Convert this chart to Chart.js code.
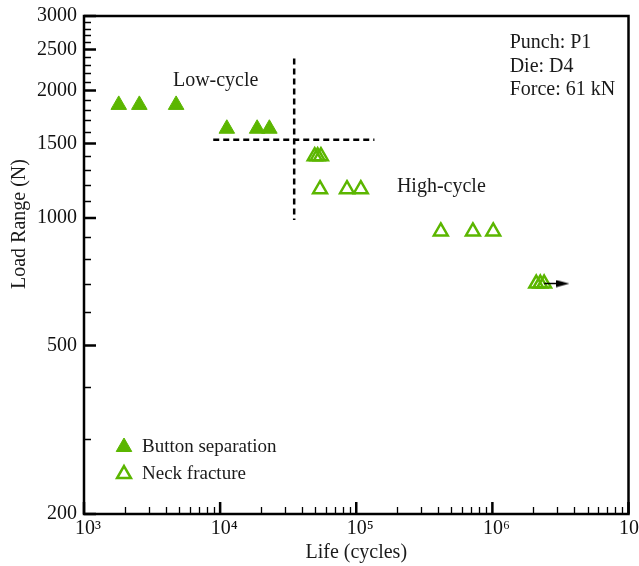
<!DOCTYPE html>
<html>
<head>
<meta charset="utf-8">
<script src="https://cdn.jsdelivr.net/npm/chart.js@4"></script>
<style>
  html, body { margin: 0; padding: 0; background: #fff; }
</style>
</head>
<body>
<canvas id="chartVida" width="639" height="566"></canvas>
<script>
// ============ DATA ============
const buttonLife = [1800, 2550, 4750, 11200, 18700, 23000];
const buttonLoad = [1850, 1850, 1850, 1625, 1625, 1625];

const neckLife = [49500, 52000, 55000, 54200, 85500, 108000, 418000, 719000, 1014000, 2100000, 2250000, 2400000];
const neckLoad = [1400, 1400, 1400, 1170, 1170, 1170, 930, 930, 930, 700, 700, 700];

// run-out arrow on the last group
const runoutLife = [2400000, 3300000];
const runoutLoad = [700, 700];

// low / high cycle dividers
const dividerVLife = [35000, 35000];
const dividerVLoad = [2380, 990];
const dividerHLife = [8900, 136000];
const dividerHLoad = [1530, 1530];

const xTickLabels = [1e3, 1e4, 1e5, 1e6, 1e7];
const yTickLabels = [200, 500, 1000, 1500, 2000, 2500, 3000];
const yMinorTicks = [300, 400, 600, 700, 800, 900, 1100, 1200, 1300, 1400, 1600, 1700, 1800, 1900,
                     2100, 2200, 2300, 2400, 2600, 2700, 2800, 2900];

const notas = [
    { text: 'Low-cycle',     life: 4500,    load: 2107 },
    { text: 'High-cycle',    life: 199000,  load: 1184 },
    { text: 'Punch: P1',     life: 1340000, load: 2590 },
    { text: 'Die: D4',       life: 1340000, load: 2275 },
    { text: 'Force: 61 kN',  life: 1340000, load: 2006 }
];

const VERDE = '#5bb600';
const FUENTE = 'Liberation Serif, Times New Roman, serif';
const SUP = { 3: '\u00b3', 4: '\u2074', 5: '\u2075', 6: '\u2076', 7: '\u2077' };

const pares = (xs, ys) => xs.map((v, i) => ({ x: v, y: ys[i] }));

// minor ticks 2..9 per decade
const xMinorTicks = [];
for (let d = 3; d < 7; d++) {
    for (let k = 2; k <= 9; k++) xMinorTicks.push(k * Math.pow(10, d));
}

// arrowhead used as the end point style of the run-out line
const punta = document.createElement('canvas');
punta.width = 13; punta.height = 8;
(function() {
    const c = punta.getContext('2d');
    c.fillStyle = '#000';
    c.beginPath();
    c.moveTo(0, 0.5); c.lineTo(13, 4); c.lineTo(0, 7.5);
    c.closePath();
    c.fill();
})();

const decorPlugin = {
    id: 'decor',
    afterDatasetsDraw(chart) {
        const { ctx, chartArea: a, scales: { x, y } } = chart;
        ctx.save();
        ctx.strokeStyle = '#000';

        // inward tick marks on bottom and left
        ctx.lineWidth = 1.3;
        ctx.beginPath();
        xMinorTicks.forEach(v => {
            const px = Math.round(x.getPixelForValue(v)) + 0.5;
            ctx.moveTo(px, a.bottom); ctx.lineTo(px, a.bottom - 7);
        });
        yMinorTicks.forEach(v => {
            const py = Math.round(y.getPixelForValue(v)) + 0.5;
            ctx.moveTo(a.left, py); ctx.lineTo(a.left + 7, py);
        });
        ctx.stroke();

        ctx.lineWidth = 2.5;
        ctx.beginPath();
        xTickLabels.forEach(v => {
            const px = x.getPixelForValue(v);
            ctx.moveTo(px, a.bottom); ctx.lineTo(px, a.bottom - 12);
        });
        yTickLabels.forEach(v => {
            const py = y.getPixelForValue(v);
            ctx.moveTo(a.left, py); ctx.lineTo(a.left + 12, py);
        });
        ctx.stroke();

        // frame
        ctx.lineWidth = 2.5;
        ctx.strokeRect(a.left, a.top, a.right - a.left, a.bottom - a.top);

        // annotations
        ctx.fillStyle = '#1a1a1a';
        ctx.font = '20px ' + FUENTE;
        ctx.textAlign = 'left';
        ctx.textBaseline = 'middle';
        notas.forEach(n => {
            ctx.fillText(n.text, x.getPixelForValue(n.life), y.getPixelForValue(n.load));
        });

        // legend
        const items = [
            { text: 'Button separation', ds: chart.data.datasets[3] },
            { text: 'Neck fracture',     ds: chart.data.datasets[4] }
        ];
        ctx.font = '19px ' + FUENTE;
        items.forEach((it, i) => {
            const cy = a.bottom - 67 + i * 27;
            ctx.save();
            ctx.fillStyle = it.ds.pointBackgroundColor;
            ctx.strokeStyle = it.ds.pointBorderColor;
            ctx.lineWidth = it.ds.pointBorderWidth;
            Chart.helpers.drawPoint(ctx, {
                pointStyle: 'triangle', rotation: 0,
                radius: it.ds.pointRadius, borderWidth: it.ds.pointBorderWidth
            }, a.left + 40, cy);
            ctx.restore();
            ctx.fillText(it.text, a.left + 58, cy);
        });

        // vertical axis title
        ctx.font = '20px ' + FUENTE;
        ctx.textAlign = 'center';
        ctx.translate(20, 224);
        ctx.rotate(-Math.PI / 2);
        ctx.fillText('Load Range (N)', 0, 0);
        ctx.restore();
    }
};

new Chart(document.getElementById('chartVida'), {
    type: 'scatter',
    data: {
        datasets: [
            {
                label: 'divider-v',
                data: pares(dividerVLife, dividerVLoad),
                showLine: true, pointRadius: 0,
                borderColor: '#000', borderWidth: 2.5, borderDash: [6, 4]
            },
            {
                label: 'divider-h',
                data: pares(dividerHLife, dividerHLoad),
                showLine: true, pointRadius: 0,
                borderColor: '#000', borderWidth: 2.5, borderDash: [6, 4]
            },
            {
                label: 'run-out',
                data: pares(runoutLife, runoutLoad),
                showLine: true,
                borderColor: '#000', borderWidth: 1.5,
                pointRadius: [0, 6],
                pointStyle: [false, punta]
            },
            {
                label: 'Button separation',
                data: pares(buttonLife, buttonLoad),
                pointStyle: 'triangle',
                pointRadius: 9,
                pointBackgroundColor: VERDE,
                pointBorderColor: VERDE,
                pointBorderWidth: 1
            },
            {
                label: 'Neck fracture',
                data: pares(neckLife, neckLoad),
                pointStyle: 'triangle',
                pointRadius: 8,
                pointBackgroundColor: 'rgba(0,0,0,0)',
                pointBorderColor: VERDE,
                pointBorderWidth: 2.5
            }
        ]
    },
    options: {
        responsive: false,
        animation: false,
        events: [],
        layout: { padding: { top: 16, right: 9, left: 0, bottom: 0 } },
        plugins: {
            legend: { display: false },
            tooltip: { enabled: false }
        },
        scales: {
            x: {
                type: 'logarithmic',
                min: 1e3, max: 1e7,
                afterBuildTicks: s => { s.ticks = xTickLabels.map(v => ({ value: v })); },
                afterFit: s => { s.height = 52; s.paddingLeft = 0; s.paddingRight = 0; },
                grid: { display: false, drawTicks: false },
                border: { display: false },
                ticks: {
                    autoSkip: false, maxRotation: 0,
                    padding: 3, labelOffset: 4,
                    color: '#111',
                    font: { family: FUENTE, size: 20 },
                    callback: v => '10' + SUP[Math.round(Math.log10(v))]
                },
                title: {
                    display: true, text: 'Life (cycles)', color: '#1a1a1a',
                    font: { family: FUENTE, size: 20 },
                    padding: { top: 0, bottom: 1 }
                }
            },
            y: {
                type: 'logarithmic',
                min: 200, max: 3000,
                afterBuildTicks: s => { s.ticks = yTickLabels.map(v => ({ value: v })); },
                afterFit: s => { s.width = 84; s.paddingTop = 0; s.paddingBottom = 0; },
                grid: { display: false, drawTicks: false },
                border: { display: false },
                ticks: {
                    autoSkip: false, padding: 7,
                    color: '#111',
                    font: { family: FUENTE, size: 20 },
                    callback: v => String(v)
                }
            }
        }
    },
    plugins: [decorPlugin]
});
</script>
</body>
</html>
